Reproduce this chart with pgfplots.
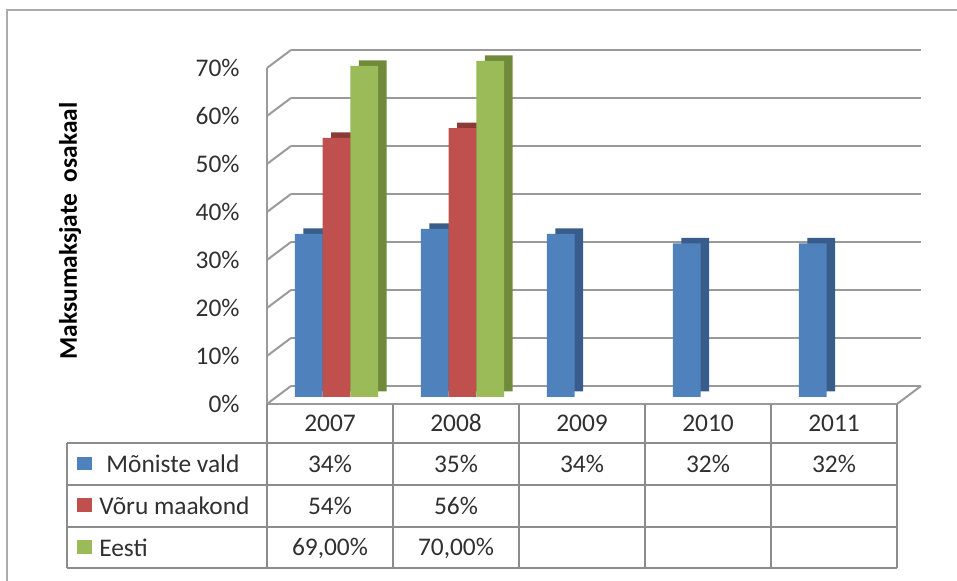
\documentclass[border=0pt]{standalone}
\usepackage{fontspec}
\setmainfont{Carlito}
\usepackage{pgfplots}
\pgfplotsset{compat=1.18}
\usepackage{pgfplotstable}

\definecolor{mblue}{HTML}{4F81BD}
\definecolor{mblueside}{HTML}{385D8A}
\definecolor{mred}{HTML}{C0504D}
\definecolor{mredside}{HTML}{8C3A37}
\definecolor{mgreen}{HTML}{9BBB59}
\definecolor{mgreenside}{HTML}{6E8A3A}
\definecolor{gridgray}{HTML}{9A9A9A}
\definecolor{tablegray}{HTML}{8C8C8C}
\definecolor{txt}{HTML}{303030}

% category centre, then one column per series (share in %)
\pgfplotstableread{
x   monis vooru eesti
0.5 34    54    69
1.5 35    56    70
2.5 34    nan   nan
3.5 32    nan   nan
4.5 32    nan   nan
}\shares

\pgfplotsset{
  wall/.style={scale only axis, width=315pt, height=168pt,
    xmin=0, xmax=5, ymin=0, ymax=70, anchor=south west, clip=false},
  barlayer/.style={wall, hide axis},
}

\begin{document}
\begin{tikzpicture}[x=0.5pt, y=0.5pt, font=\fontsize{12.7}{15}\selectfont, text=txt]
\useasboundingbox (0,0) rectangle (957,581);

% outer frame
\draw[gray!65, line width=1.2pt] (7,0) -- (7,571) -- (957,571);

% back wall with gridlines
\begin{axis}[wall, at={(145.5pt,97.5pt)}, axis line style={draw=none},
  xtick=\empty, ytick={0,10,...,70}, yticklabels={},
  tick style={draw=none}, ymajorgrids,
  major grid style={gridgray, line width=1pt}]
\end{axis}

% side walls: diagonals from front edge to back wall
\foreach \v in {0,1,...,7} {
  \draw[gridgray, line width=1pt] (267,177+48*\v) -- (291,195+48*\v);
}
\draw[gridgray, line width=1pt] (897,177) -- (921,195);

% bar depth (side and top faces)
\begin{axis}[barlayer, at={(141pt,94.75pt)}]
  \addplot[ybar, bar width=13.85pt, bar shift=-13.85pt, fill=mblueside, draw=none]
    table[x=x, y=monis] {\shares};
  \addplot[ybar, bar width=13.85pt, bar shift=0pt, fill=mredside, draw=none]
    table[x=x, y=vooru] {\shares};
  \addplot[ybar, bar width=13.85pt, bar shift=13.85pt, fill=mgreenside, draw=none]
    table[x=x, y=eesti] {\shares};
\end{axis}

% bar fronts
\begin{axis}[barlayer, at={(136.75pt,92pt)}]
  \addplot[ybar, bar width=13.85pt, bar shift=-13.85pt, fill=mblue, draw=none]
    table[x=x, y=monis] {\shares};
  \addplot[ybar, bar width=13.85pt, bar shift=0pt, fill=mred, draw=none]
    table[x=x, y=vooru] {\shares};
  \addplot[ybar, bar width=13.85pt, bar shift=13.85pt, fill=mgreen, draw=none]
    table[x=x, y=eesti] {\shares};
\end{axis}

% front plane, tick labels and years
\begin{axis}[wall, at={(133.5pt,88.5pt)},
  axis x line*=bottom, axis y line*=left,
  axis line style={-, gridgray, line width=1pt},
  xtick={0.5,1.5,2.5,3.5,4.5},
  xticklabels={2007,2008,2009,2010,2011},
  ytick={0,10,...,70},
  yticklabels={0\%,10\%,20\%,30\%,40\%,50\%,60\%,70\%},
  tick style={draw=none},
  every tick label/.append style={inner sep=0pt, text=txt},
  xticklabel style={anchor=center, yshift=-9.5pt},
  yticklabel style={anchor=east, xshift=-13.5pt}]
\end{axis}

% data table grid
\begin{scope}[tablegray, line width=0.8pt]
  \draw (67,138) -- (897,138);
  \draw (67,96) -- (897,96);
  \draw (67,54) -- (897,54);
  \draw (67,13) -- (897,13);
  \draw (67,138) -- (67,13);
  \foreach \c in {267,393,519,645,771,897} {
    \draw (\c,177) -- (\c,13);
  }
\end{scope}

% legend keys and series names
\fill[mblue]  (77,111) rectangle (92,124);
\fill[mred]   (77,69)  rectangle (92,83);
\fill[mgreen] (77,27)  rectangle (92,41);
\node[anchor=west, inner sep=0pt] at (106,117) {Mõniste vald};
\node[anchor=west, inner sep=0pt] at (99,75) {Võru maakond};
\node[anchor=west, inner sep=0pt] at (99,33) {Eesti};

% values
\node at (330,117) {34\%};
\node at (456,117) {35\%};
\node at (582,117) {34\%};
\node at (708,117) {32\%};
\node at (834,117) {32\%};
\node at (330,75) {54\%};
\node at (456,75) {56\%};
\node at (330,33) {69,00\%};
\node at (456,33) {70,00\%};

% axis title
\node[rotate=90, font=\fontsize{12.7}{15}\selectfont\bfseries, text=black]
  at (70,350) {Maksumaksjate\ \ osakaal};
\end{tikzpicture}
\end{document}
